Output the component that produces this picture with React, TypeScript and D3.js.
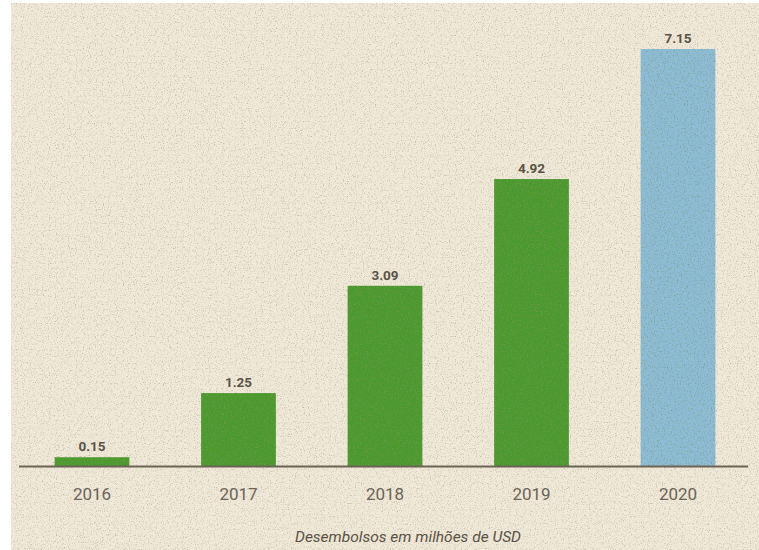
import React from "react";
import * as d3 from "d3";

const years = ["2016", "2017", "2018", "2019", "2020"];
const values = [0.15, 1.25, 3.09, 4.92, 7.15];
const valueLabels = ["0.15", "1.25", "3.09", "4.92", "7.15"];
const highlight = [false, false, false, false, true];
const caption = "Desembolsos em milhões de USD";

const W = 759;
const H = 550;

export default function App() {
  const x = d3
    .scaleBand<string>()
    .domain(years)
    .range([18, 752])
    .paddingInner(0.49)
    .paddingOuter(0.25);
  const y = d3.scaleLinear().domain([0, 7.5]).range([466, 28.6]);
  const baseY = y(0);

  return (
    <svg
      width={W}
      height={H}
      style={{ position: "fixed", left: 0, top: 0, display: "block" }}
    >
      <defs>
        <filter id="paper" x="0" y="0" width="100%" height="100%">
          <feTurbulence type="fractalNoise" baseFrequency="0.85" numOctaves="3" seed="4" result="n" />
          <feColorMatrix
            in="n"
            type="matrix"
            values="0 0 0 0 0.55  0 0 0 0 0.50  0 0 0 0 0.42  0 0 0 -2.8 1.38"
            result="speck"
          />
          <feComposite in="speck" in2="SourceGraphic" operator="in" result="sp" />
          <feMerge>
            <feMergeNode in="SourceGraphic" />
            <feMergeNode in="sp" />
          </feMerge>
        </filter>
        <filter id="barTex" x="0" y="0" width="100%" height="100%">
          <feTurbulence type="fractalNoise" baseFrequency="0.7" numOctaves="2" seed="9" result="n" />
          <feColorMatrix
            in="n"
            type="matrix"
            values="0 0 0 0 0.2  0 0 0 0 0.3  0 0 0 0 0.1  0 0 0 -2 1.0"
            result="speck"
          />
          <feComposite in="speck" in2="SourceGraphic" operator="in" result="sp" />
          <feMerge>
            <feMergeNode in="SourceGraphic" />
            <feMergeNode in="sp" />
          </feMerge>
        </filter>
      </defs>
      <rect x={0} y={0} width={W} height={H} fill="#ffffff" />
      <rect x={11} y={3} width={W - 11} height={H - 3} fill="#f1e9d8" filter="url(#paper)" />

      {years.map((yr, i) => {
        const bx = x(yr) as number;
        const by = y(values[i]);
        return (
          <g key={yr}>
            <rect
              x={bx}
              y={by}
              width={x.bandwidth()}
              height={baseY - by}
              fill={highlight[i] ? "#8dbdd6" : "#4b9a2f"}
              filter="url(#barTex)"
            />
            <text
              x={bx + x.bandwidth() / 2}
              y={by - 6}
              textAnchor="middle"
              fontFamily="Roboto, 'Open Sans', sans-serif"
              fontWeight={700}
              fontSize={13.5}
              fill="#5a5347"
            >
              {valueLabels[i]}
            </text>
            <text
              x={bx + x.bandwidth() / 2}
              y={500}
              textAnchor="middle"
              fontFamily="Roboto, 'Open Sans', sans-serif"
              fontSize={17}
              fill="#6b6458"
            >
              {yr}
            </text>
          </g>
        );
      })}

      <line x1={19} x2={748} y1={baseY + 0.5} y2={baseY + 0.5} stroke="#6b6355" strokeWidth={2} />

      <text
        x={408}
        y={542}
        textAnchor="middle"
        fontFamily="Roboto, 'Open Sans', sans-serif"
        fontStyle="italic"
        fontSize={15.5}
        fill="#5a5347"
      >
        {caption}
      </text>
    </svg>
  );
}
